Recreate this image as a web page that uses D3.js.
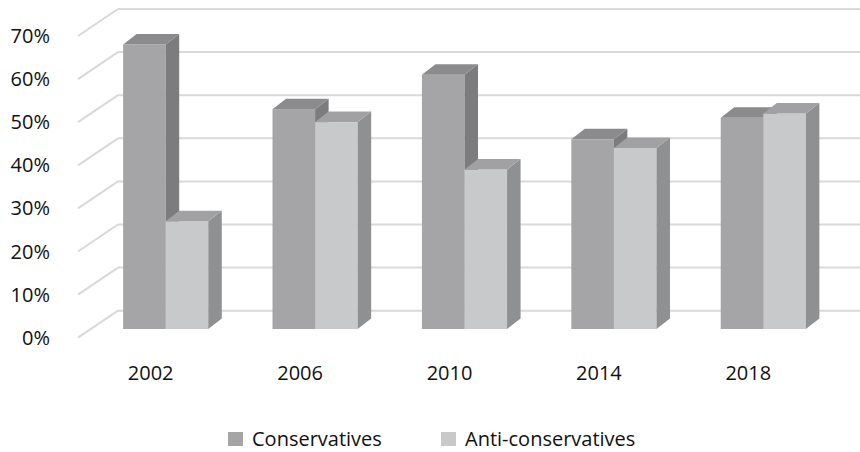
<!DOCTYPE html>
<html>
<head>
<meta charset="utf-8">
<script src="https://cdn.jsdelivr.net/npm/d3@7"></script>
<style>
  html, body { margin: 0; padding: 0; background: #fff; }
  svg { display: block; font-family: "Open Sans", sans-serif; }
</style>
</head>
<body>
<svg id="chart" width="860" height="452"></svg>
<script>
// Election years and share of each camp (percent)
const years = ["2002", "2006", "2010", "2014", "2018"];
const seriesNames = ["Conservatives", "Anti-conservatives"];
const conservatives = [66, 51, 59, 44, 49];
const antiConservatives = [25, 48, 37, 42, 50];
const yTicks = [0, 10, 20, 30, 40, 50, 60, 70];

const rows = years.map((y, i) => ({
  year: y,
  values: [
    { key: seriesNames[0], value: conservatives[i] },
    { key: seriesNames[1], value: antiConservatives[i] }
  ]
}));

// Face shading per series: front, side, top
const shades = {
  "Conservatives":      { front: "#a5a5a7", side: "#7c7c7e", top: "#8b8b8d", legend: "#a5a5a5" },
  "Anti-conservatives": { front: "#c8c9cb", side: "#8f9092", top: "#a1a1a3", legend: "#c9c9c9" }
};

const svg = d3.select("#chart");

// Scales live on the plane of the bars' front faces
const x0 = d3.scaleBand().domain(years).range([91, 838])
  .paddingInner(0.43).paddingOuter(0.215);
const x1 = d3.scaleBand().domain(seriesNames).range([0, x0.bandwidth()]);
const y = d3.scaleLinear().domain([0, 70]).range([329, 329 - 7 * 43.1]);

// Oblique offsets relative to the bar front plane
const wall = { dx: 27, dy: -18.3 };     // back wall
const front = { dx: -13, dy: 8.7 };     // front edge of the floor
const barDepth = { dx: 13.5, dy: -10.5 }; // extrusion of each bar

// Back wall gridlines and side wall diagonals
const grid = svg.append("g").attr("stroke", "#d9d9d9").attr("stroke-width", 2).attr("fill", "none");
const wallLeft = 91 + wall.dx;
grid.selectAll("line.h").data(yTicks).join("line")
  .attr("class", "h")
  .attr("x1", wallLeft).attr("x2", 870)
  .attr("y1", d => y(d) + wall.dy).attr("y2", d => y(d) + wall.dy);
grid.selectAll("line.d").data(yTicks).join("line")
  .attr("class", "d")
  .attr("x1", wallLeft).attr("y1", d => y(d) + wall.dy)
  .attr("x2", 91 + front.dx).attr("y2", d => y(d) + front.dy);

// Y axis labels along the front edge
svg.append("g").selectAll("text").data(yTicks).join("text")
  .attr("x", 50)
  .attr("y", d => y(d) + front.dy)
  .attr("dy", "0.35em")
  .attr("text-anchor", "end")
  .attr("font-size", 20)
  .attr("fill", "#111")
  .text(d => d + "%");

// 3D bars
const pts = a => a.map(p => p.join(",")).join(" ");
const bars = svg.append("g");
rows.forEach(r => {
  const g = bars.append("g");
  r.values.forEach(v => {
    const xl = x0(r.year) + x1(v.key);
    const xr = xl + x1.bandwidth();
    const yt = y(v.value);
    const yb = y(0);
    const c = shades[v.key];
    const bx = barDepth.dx, by = barDepth.dy;
    // front face
    g.append("rect").attr("x", xl).attr("y", yt)
      .attr("width", xr - xl).attr("height", yb - yt).attr("fill", c.front);
    // right side
    g.append("polygon").attr("fill", c.side)
      .attr("points", pts([[xr, yt], [xr + bx, yt + by], [xr + bx, yb + by], [xr, yb]]));
    // top
    g.append("polygon").attr("fill", c.top)
      .attr("points", pts([[xl, yt], [xl + bx, yt + by], [xr + bx, yt + by], [xr, yt]]));
  });
});

// Category labels on the front edge
svg.append("g").selectAll("text").data(years).join("text")
  .attr("x", d => x0(d) + x0.bandwidth() / 2 + front.dx - 2)
  .attr("y", 380)
  .attr("text-anchor", "middle")
  .attr("font-size", 20)
  .attr("fill", "#111")
  .text(d => d);

// Legend
const legendX = [228, 441];
const legend = svg.append("g").selectAll("g").data(seriesNames).join("g")
  .attr("transform", (d, i) => `translate(${legendX[i]},432)`);
legend.append("rect").attr("width", 15).attr("height", 14)
  .attr("fill", d => shades[d].legend);
legend.append("text").attr("x", 24).attr("y", 14)
  .attr("font-size", 20).attr("fill", "#111")
  .text(d => d);
</script>
</body>
</html>
